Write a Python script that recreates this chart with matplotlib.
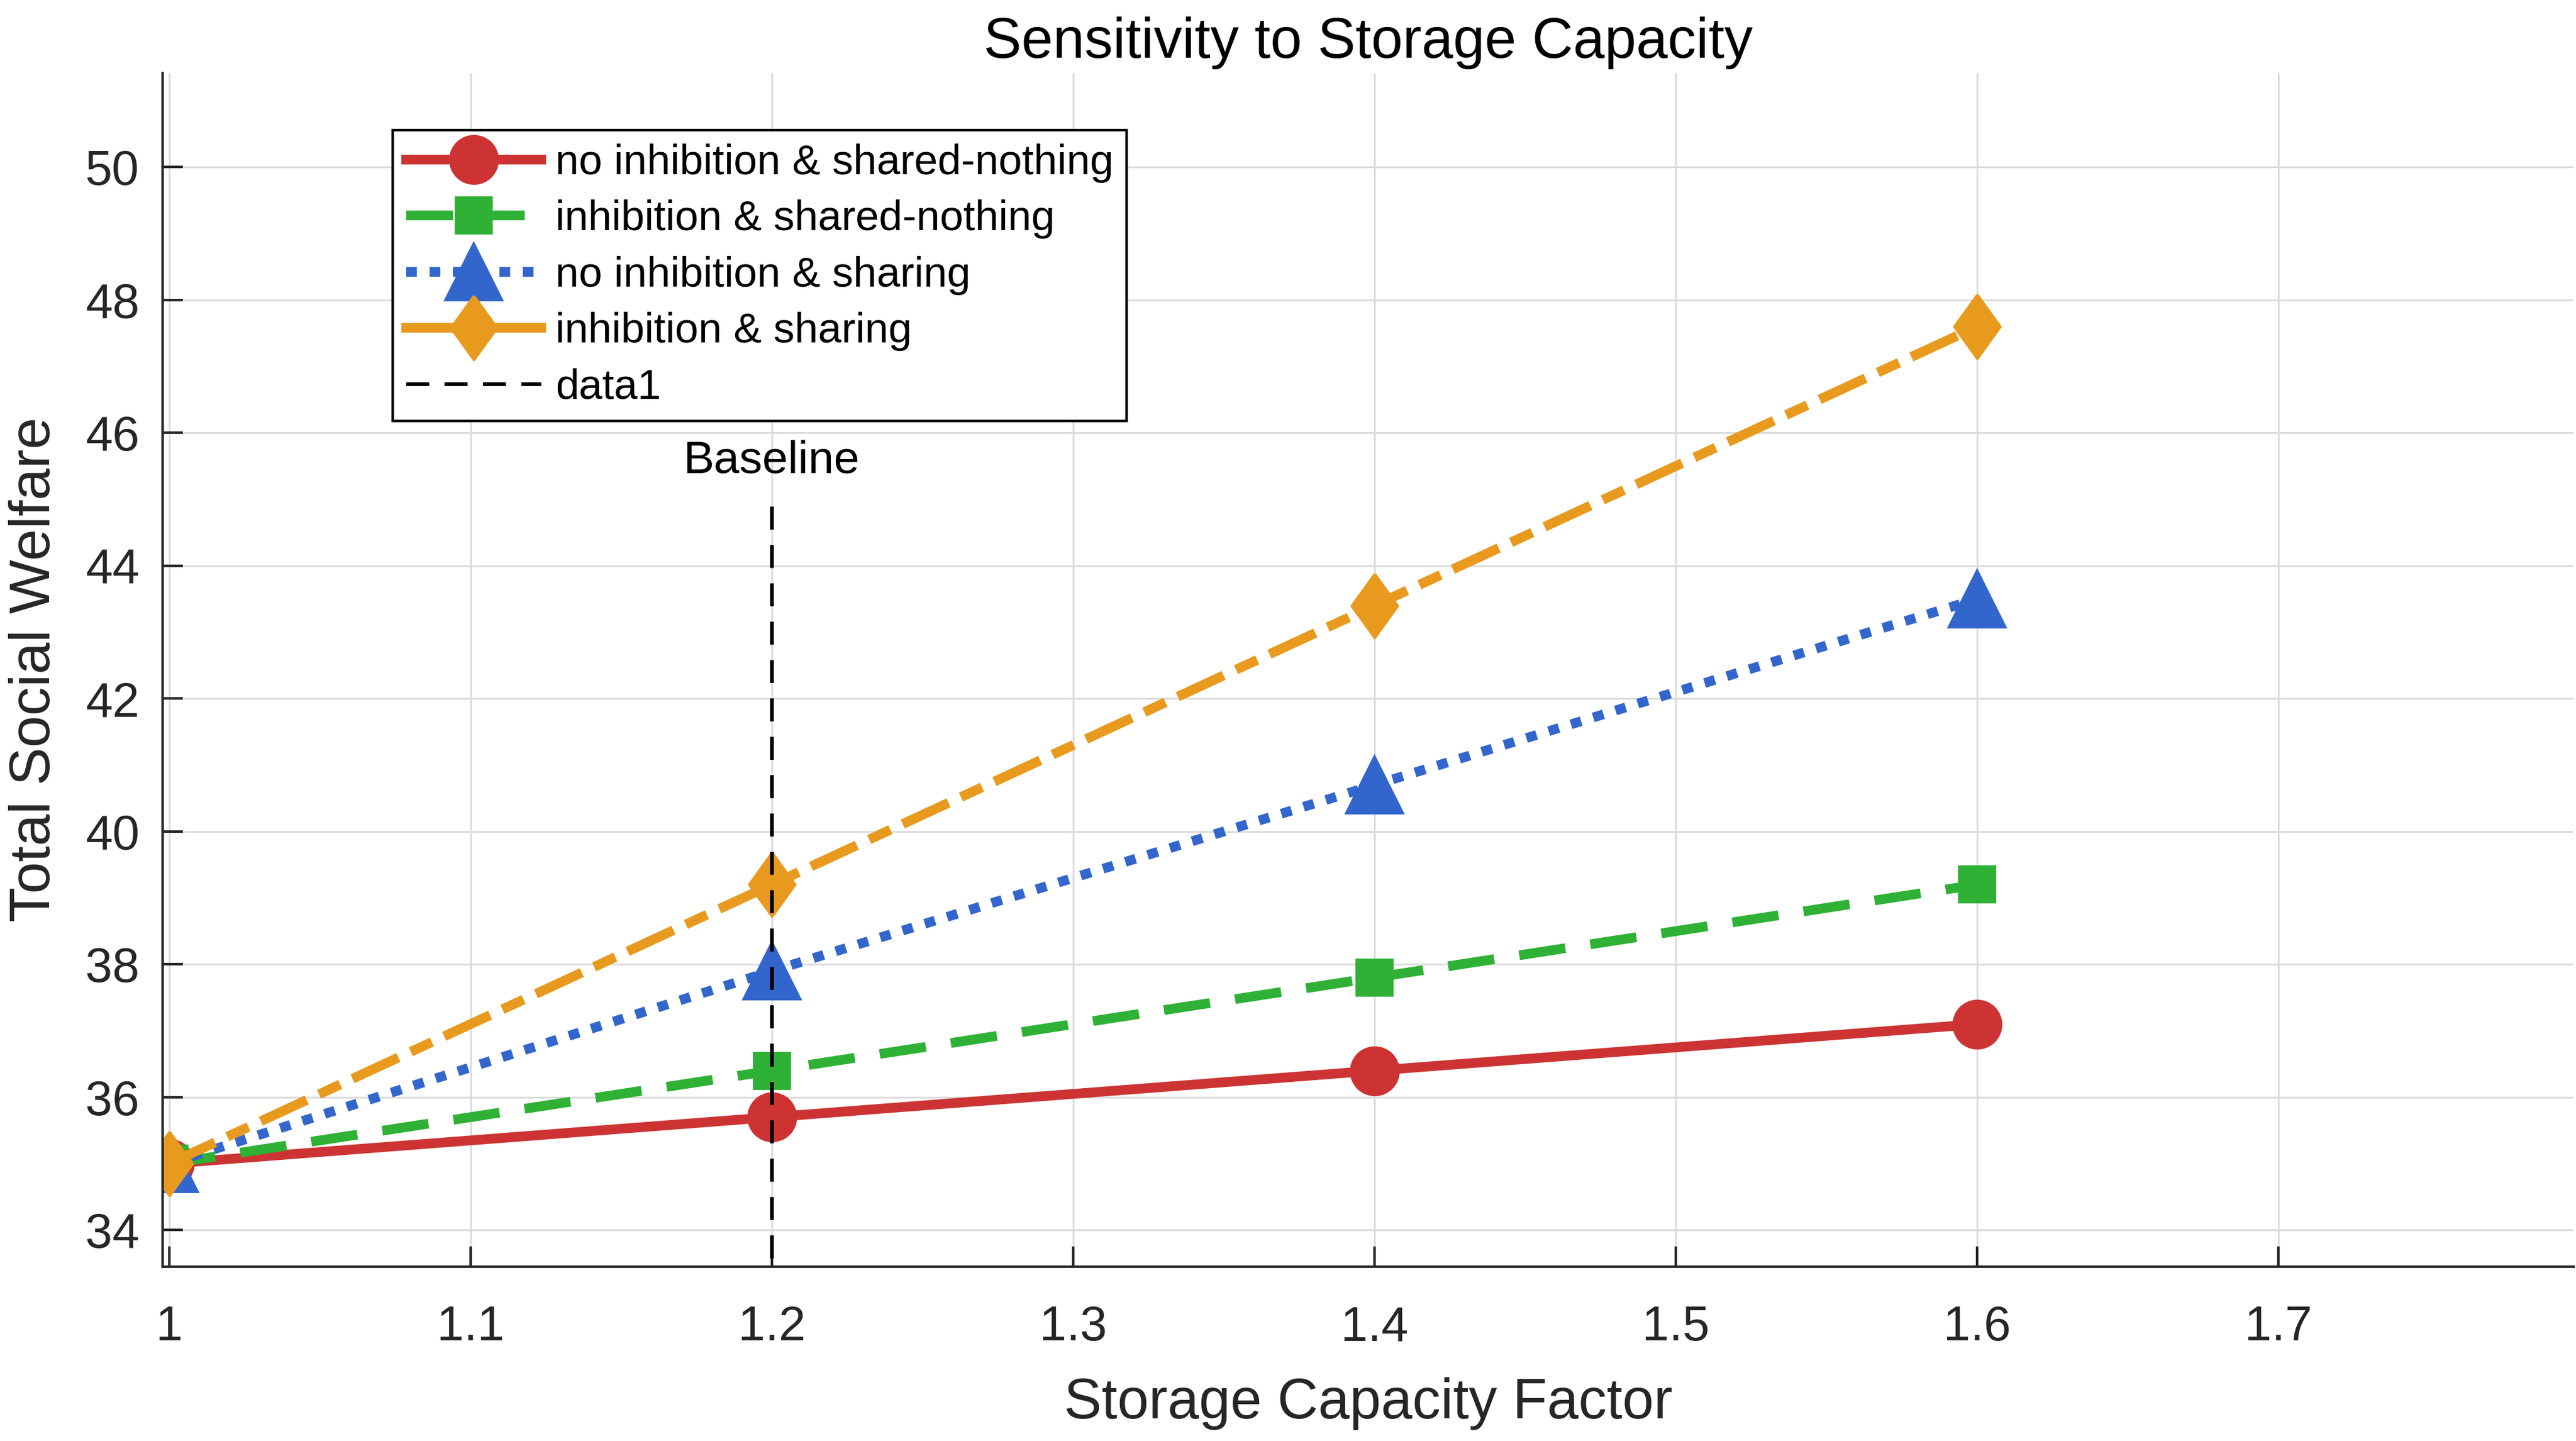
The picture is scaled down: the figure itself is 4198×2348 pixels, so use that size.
import numpy as np
import matplotlib.pyplot as plt

plt.rcParams['font.family'] = ['Liberation Sans', 'DejaVu Sans']

# data
capacity = [1.0, 1.2, 1.4, 1.6]
noinh_nothing = [35.0, 35.7, 36.4, 37.1]
inh_nothing = [35.0, 36.4, 37.8, 39.2]
noinh_sharing = [35.0, 37.9, 40.7, 43.5]
inh_sharing = [35.0, 39.2, 43.4, 47.6]

baseline_x = [1.2, 1.2]
baseline_y = [33.0, 45.0]

labels = ['no inhibition & shared-nothing', 'inhibition & shared-nothing',
          'no inhibition & sharing', 'inhibition & sharing', 'data1']
xticks = [1.0, 1.1, 1.2, 1.3, 1.4, 1.5, 1.6, 1.7]
yticks = [34, 36, 38, 40, 42, 44, 46, 48, 50]

c_red = '#CD3333'
c_green = '#2FB135'
c_blue = '#3366CC'
c_orange = '#E89A1E'
txt = '#262626'

fig = plt.figure(figsize=(4198 / 300, 2348 / 300), dpi=300)
ax = fig.add_axes([0.0631, 0.121, 0.936, 0.8285])

lw = 3.8
ax.plot(capacity, noinh_nothing, color=c_red, lw=lw, ls='-', marker='o',
        ms=18.5, label=labels[0])
ax.plot(capacity, inh_nothing, color=c_green, lw=lw, ls=(0, (4.8, 2.6)),
        marker='s', ms=14, label=labels[1], dash_capstyle='butt')
ax.plot(capacity, noinh_sharing, color=c_blue, lw=lw, ls=(0, (1.1, 1.3)),
        marker='^', ms=22, label=labels[2], dash_capstyle='butt')
diamond = [(0, 1), (0.72, 0), (0, -1), (-0.72, 0), (0, 1)]
ax.plot(capacity, inh_sharing, color=c_orange, lw=lw,
        ls=(0, (5.2, 1.4, 2.4, 1.4)), marker=diamond, ms=25,
        label=labels[3], dash_capstyle='butt')
ax.plot(baseline_x, baseline_y, color='black', lw=1.5, ls=(0, (6, 4)),
        label=labels[4])
ax.text(1.2, 45.58, 'Baseline', ha='center', va='center', fontsize=18,
        color='black')

ax.set_xlim(0.9978, 1.798)
ax.set_ylim(33.45, 51.42)
ax.set_xticks(xticks)
ax.set_xticklabels(['1', '1.1', '1.2', '1.3', '1.4', '1.5', '1.6', '1.7'])
ax.set_yticks(yticks)

ax.grid(True, color='#DCDCDC', lw=0.7)
ax.set_axisbelow(True)
for s in ['top', 'right']:
    ax.spines[s].set_visible(False)
for s in ['left', 'bottom']:
    ax.spines[s].set_color(txt)
    ax.spines[s].set_linewidth(1.0)
ax.tick_params(axis='both', direction='in', length=8, width=1.0,
               colors=txt, labelsize=19)
ax.tick_params(axis='x', pad=15)
ax.tick_params(axis='y', pad=9)

ax.set_title('Sensitivity to Storage Capacity', fontsize=22.2, pad=6,
             color='black')
ax.set_xlabel('Storage Capacity Factor', fontsize=22.1, color=txt, va='center')
ax.xaxis.set_label_coords(0.5, -0.1145)
ax.set_ylabel('Total Social Welfare', fontsize=22.4, color=txt, va='center')
ax.yaxis.set_label_coords(-0.053, 0.5)

leg = ax.legend(loc='upper left', bbox_to_anchor=(0.0955, 0.952),
                borderaxespad=0, fontsize=16.5, handlelength=3.2,
                handletextpad=0.33, labelspacing=0.40, borderpad=0.32,
                fancybox=False, framealpha=1, edgecolor='black')
leg.get_frame().set_linewidth(1.0)
leg.get_lines()[3].set_linestyle('-')

fig.savefig('out.png', dpi=300)
